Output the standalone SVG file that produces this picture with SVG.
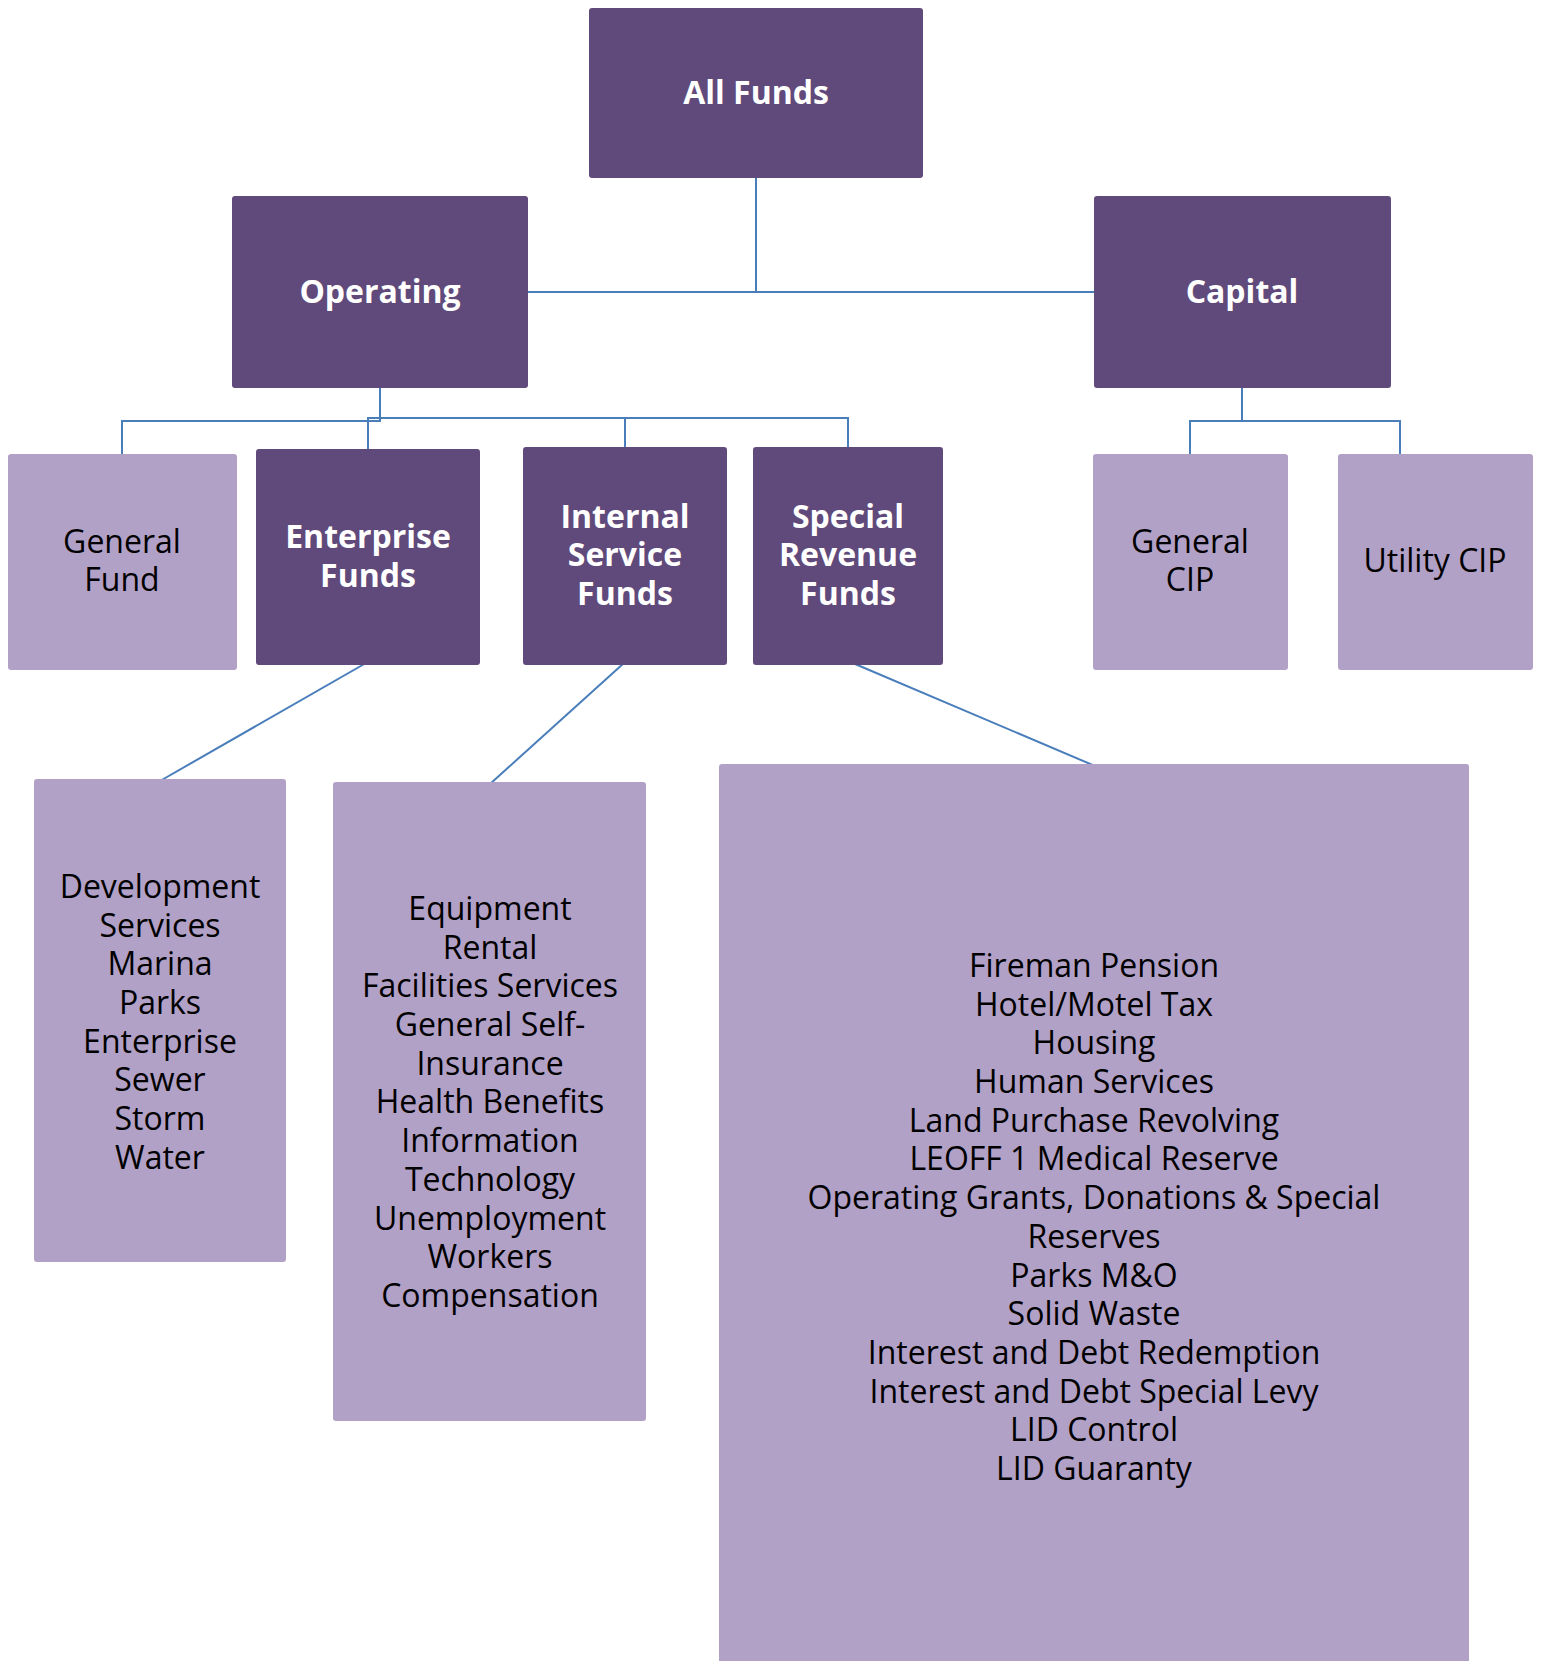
<svg xmlns="http://www.w3.org/2000/svg" width="1543" height="1661" viewBox="0 0 1543 1661">
<style>
.dark{fill:#604A7B}
.light{fill:#B2A1C7}
.lb{font-family:"Open Sans","Liberation Sans",sans-serif;font-size:32px;font-weight:bold;fill:#FFFFFF;text-anchor:middle}
.lt{font-family:"Open Sans","Liberation Sans",sans-serif;font-size:32px;fill:#000000;text-anchor:middle}
.conn{fill:none;stroke:#4A7EBB;stroke-width:2}
</style>
<rect width="1543" height="1661" fill="#FFFFFF"/>
<g id="connectors">
<path class="conn" d="M756,178 V292 M528,292 H1094"/>
<path class="conn" d="M380,388 V421 H122 V454"/>
<path class="conn" d="M368,449 V418 H848 V447 M380,388 V418 M625,418 V447"/>
<path class="conn" d="M1242,388 V421 H1190 V454 M1242,421 H1400 V454"/>
<path class="conn" d="M366,663 L160,781"/>
<path class="conn" d="M624,663 L490,784"/>
<path class="conn" d="M848,661 L1095,766"/>
</g>
<g id="all-funds">
<rect class="dark" x="589" y="8" width="334" height="170" rx="3"/>
<text class="lb" x="756" y="104">All Funds</text>
</g>
<g id="operating">
<rect class="dark" x="232" y="196" width="296" height="192" rx="3"/>
<text class="lb" x="380" y="303">Operating</text>
</g>
<g id="capital">
<rect class="dark" x="1094" y="196" width="297" height="192" rx="3"/>
<text class="lb" x="1242" y="303">Capital</text>
</g>
<g id="general-fund">
<rect class="light" x="8" y="454" width="229" height="216" rx="3"/>
<text class="lt" x="122" y="553">General</text>
<text class="lt" x="122" y="591">Fund</text>
</g>
<g id="enterprise-funds">
<rect class="dark" x="256" y="449" width="224" height="216" rx="3"/>
<text class="lb" x="368" y="548">Enterprise</text>
<text class="lb" x="368" y="587">Funds</text>
</g>
<g id="internal-service-funds">
<rect class="dark" x="523" y="447" width="204" height="218" rx="3"/>
<text class="lb" x="625" y="528">Internal</text>
<text class="lb" x="625" y="566">Service</text>
<text class="lb" x="625" y="605">Funds</text>
</g>
<g id="special-revenue-funds">
<rect class="dark" x="753" y="447" width="190" height="218" rx="3"/>
<text class="lb" x="848" y="528">Special</text>
<text class="lb" x="848" y="566">Revenue</text>
<text class="lb" x="848" y="605">Funds</text>
</g>
<g id="general-cip">
<rect class="light" x="1093" y="454" width="195" height="216" rx="3"/>
<text class="lt" x="1190" y="553">General</text>
<text class="lt" x="1190" y="591">CIP</text>
</g>
<g id="utility-cip">
<rect class="light" x="1338" y="454" width="195" height="216" rx="3"/>
<text class="lt" x="1435" y="572">Utility CIP</text>
</g>
<g id="enterprise-list">
<rect class="light" x="34" y="779" width="252" height="483" rx="3"/>
<text class="lt" x="160" y="898">Development</text>
<text class="lt" x="160" y="937">Services</text>
<text class="lt" x="160" y="975">Marina</text>
<text class="lt" x="160" y="1014">Parks</text>
<text class="lt" x="160" y="1053">Enterprise</text>
<text class="lt" x="160" y="1091">Sewer</text>
<text class="lt" x="160" y="1130">Storm</text>
<text class="lt" x="160" y="1169">Water</text>
</g>
<g id="internal-service-list">
<rect class="light" x="333" y="782" width="313" height="639" rx="3"/>
<text class="lt" x="490" y="920">Equipment</text>
<text class="lt" x="490" y="959">Rental</text>
<text class="lt" x="490" y="997">Facilities Services</text>
<text class="lt" x="490" y="1036">General Self-</text>
<text class="lt" x="490" y="1075">Insurance</text>
<text class="lt" x="490" y="1113">Health Benefits</text>
<text class="lt" x="490" y="1152">Information</text>
<text class="lt" x="490" y="1191">Technology</text>
<text class="lt" x="490" y="1230">Unemployment</text>
<text class="lt" x="490" y="1268">Workers</text>
<text class="lt" x="490" y="1307">Compensation</text>
</g>
<g id="special-revenue-list">
<rect class="light" x="719" y="764" width="750" height="910" rx="3"/>
<text class="lt" x="1094" y="977">Fireman Pension</text>
<text class="lt" x="1094" y="1016">Hotel/Motel Tax</text>
<text class="lt" x="1094" y="1054">Housing</text>
<text class="lt" x="1094" y="1093">Human Services</text>
<text class="lt" x="1094" y="1132">Land Purchase Revolving</text>
<text class="lt" x="1094" y="1170">LEOFF 1 Medical Reserve</text>
<text class="lt" x="1094" y="1209">Operating Grants, Donations &amp; Special</text>
<text class="lt" x="1094" y="1248">Reserves</text>
<text class="lt" x="1094" y="1287">Parks M&amp;O</text>
<text class="lt" x="1094" y="1325">Solid Waste</text>
<text class="lt" x="1094" y="1364">Interest and Debt Redemption</text>
<text class="lt" x="1094" y="1403">Interest and Debt Special Levy</text>
<text class="lt" x="1094" y="1441">LID Control</text>
<text class="lt" x="1094" y="1480">LID Guaranty</text>
</g>
</svg>
